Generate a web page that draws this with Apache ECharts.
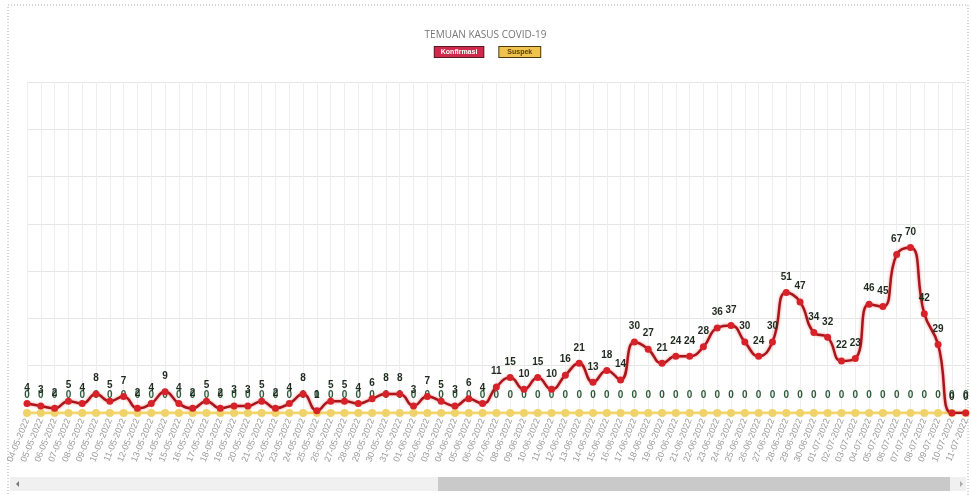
<!DOCTYPE html>
<html>
<head>
<meta charset="utf-8">
<script src="https://cdn.jsdelivr.net/npm/echarts@6/dist/echarts.min.js"></script>
<style>
html,body{margin:0;padding:0;background:#fff;}
#chart{width:971px;height:495px;}
</style>
</head>
<body>
<div id="chart"></div>
<script>
const dates = [
'04-05-2022','05-05-2022','06-05-2022','07-05-2022','08-05-2022','09-05-2022','10-05-2022','11-05-2022','12-05-2022','13-05-2022',
'14-05-2022','15-05-2022','16-05-2022','17-05-2022','18-05-2022','19-05-2022','20-05-2022','21-05-2022','22-05-2022','23-05-2022',
'24-05-2022','25-05-2022','26-05-2022','27-05-2022','28-05-2022','29-05-2022','30-05-2022','31-05-2022','01-06-2022','02-06-2022',
'03-06-2022','04-06-2022','05-06-2022','06-06-2022','07-06-2022','08-06-2022','09-06-2022','10-06-2022','11-06-2022','12-06-2022',
'13-06-2022','14-06-2022','15-06-2022','16-06-2022','17-06-2022','18-06-2022','19-06-2022','20-06-2022','21-06-2022','22-06-2022',
'23-06-2022','24-06-2022','25-06-2022','26-06-2022','27-06-2022','28-06-2022','29-06-2022','30-06-2022','01-07-2022','02-07-2022',
'03-07-2022','04-07-2022','05-07-2022','06-07-2022','07-07-2022','08-07-2022','09-07-2022','10-07-2022','11-07-2022'
];
const konfirmasi = [
4,3,2,5,4,8,5,7,2,4,
9,4,2,5,2,3,3,5,2,4,
8,1,5,5,4,6,8,8,3,7,
5,3,6,4,11,15,10,15,10,16,
21,13,18,14,30,27,21,24,24,28,
36,37,30,24,30,51,47,34,32,22,
23,46,45,67,70,42,29,0,0
];
const suspek = dates.map(() => 0);
const yTicks = {min: 0, max: 140, interval: 20};

const chart = echarts.init(document.getElementById('chart'));
chart.setOption({
  animation: false,
  title: {
    text: 'TEMUAN KASUS COVID-19',
    left: 'center', top: 25,
    textStyle: {fontSize: 10, fontWeight: 'normal', color: '#777', fontFamily: 'Open Sans'}
  },
  legend: {
    top: 41, left: 'center', itemGap: 10, itemWidth: 0, itemHeight: 0, icon: 'none',
    selectedMode: false,
    data: [
      {name: 'Konfirmasi', textStyle: {backgroundColor: '#cf2a4c', color: '#fff', borderColor: '#5a1a22', borderWidth: 1, padding: [2, 6, 1, 6], fontSize: 7, fontWeight: 'bold'}},
      {name: 'Suspek', textStyle: {backgroundColor: '#f0c24e', color: '#5a3a10', borderColor: '#4a3a10', borderWidth: 1, padding: [2, 8, 1, 8], fontSize: 7, fontWeight: 'bold'}}
    ]
  },
  grid: {left: 27, right: 5, top: 82, bottom: 82, containLabel: false},
  xAxis: {
    type: 'category', boundaryGap: false, data: dates,
    axisLine: {show: true, lineStyle: {color: '#ddd'}},
    axisTick: {show: false},
    axisLabel: {interval: 0, rotate: 68, color: '#999', fontSize: 9, margin: 6},
    splitLine: {show: true, lineStyle: {color: '#eeeeee'}}
  },
  yAxis: {
    type: 'value', min: yTicks.min, max: yTicks.max, interval: yTicks.interval,
    axisLabel: {show: false}, axisLine: {show: false}, axisTick: {show: false},
    splitLine: {lineStyle: {color: '#e6e6e6'}}
  },
  graphic: [
    {type: 'rect', shape: {x: 8, y: 5, width: 960, height: 495}, style: {fill: 'none', stroke: '#aaa', lineWidth: 1, lineDash: [1, 2]}, silent: true, z: -1},
    {type: 'rect', shape: {x: 10, y: 477, width: 956, height: 14}, style: {fill: '#f0f0f0'}, silent: true},
    {type: 'rect', shape: {x: 438, y: 477, width: 512, height: 14}, style: {fill: '#c9c9c9'}, silent: true},
    {type: 'polygon', shape: {points: [[16, 484], [19, 481], [19, 487]]}, style: {fill: '#777'}, silent: true},
    {type: 'polygon', shape: {points: [[963, 484], [960, 481], [960, 487]]}, style: {fill: '#aaa'}, silent: true}
  ],
  series: [
    {
      name: 'Suspek', type: 'line', data: suspek,
      symbol: 'circle', symbolSize: 8,
      lineStyle: {color: '#f3d56a', width: 3},
      itemStyle: {color: '#efd36a'},
      label: {show: true, position: 'top', distance: 9, color: '#2f5a3a', fontSize: 10, fontWeight: 'bold'},
      labelLayout: {moveOverlap: 'shiftY'},
      z: 2
    },
    {
      name: 'Konfirmasi', type: 'line', data: konfirmasi, smooth: true,
      symbol: 'circle', symbolSize: 7,
      lineStyle: {color: '#a8161c', width: 2.5, shadowColor: 'rgba(230,40,40,0.6)', shadowBlur: 3},
      itemStyle: {color: '#d8222a'},
      label: {show: true, position: 'top', distance: 7, color: '#1f2a1f', fontSize: 10, fontWeight: 'bold'},
      labelLayout: {moveOverlap: 'shiftY'},
      z: 3
    }
  ]
});
</script>
</body>
</html>
